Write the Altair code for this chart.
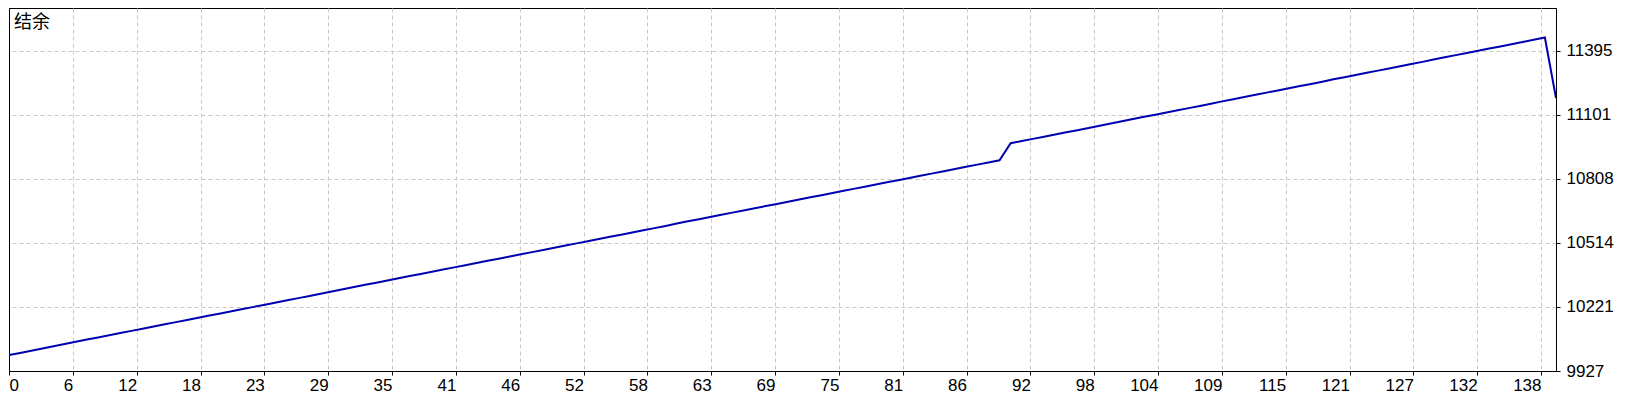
import altair as alt
import pandas as pd

title_text = "结余"

balance = [
    10000, 10010, 10020, 10030, 10040, 10051, 10061, 10071, 10081, 10091,
    10101, 10111, 10121, 10131, 10141, 10151, 10161, 10171, 10181, 10191,
    10201, 10211, 10221, 10231, 10241, 10251, 10261, 10271, 10281, 10291,
    10302, 10312, 10322, 10332, 10342, 10352, 10362, 10372, 10382, 10392,
    10402, 10412, 10422, 10432, 10442, 10452, 10462, 10472, 10482, 10492,
    10502, 10512, 10522, 10532, 10542, 10552, 10562, 10572, 10582, 10592,
    10603, 10613, 10623, 10633, 10643, 10653, 10663, 10673, 10683, 10693,
    10703, 10713, 10723, 10733, 10743, 10753, 10763, 10773, 10783, 10793,
    10803, 10813, 10823, 10833, 10843, 10853, 10863, 10873, 10883, 10893,
    10971, 10981, 10991, 11001, 11011, 11021, 11031, 11041, 11051, 11062,
    11072, 11082, 11092, 11102, 11112, 11122, 11132, 11142, 11152, 11163,
    11173, 11183, 11193, 11203, 11213, 11223, 11233, 11243, 11253, 11264,
    11274, 11284, 11294, 11304, 11314, 11324, 11334, 11344, 11355, 11365,
    11375, 11385, 11395, 11405, 11415, 11425, 11435, 11445, 11456, 11178,
]

x_labels = ["0", "6", "12", "18", "23", "29", "35", "41", "46", "52", "58", "63",
            "69", "75", "81", "86", "92", "98", "104", "109", "115", "121",
            "127", "132", "138"]
y_ticks = [9927, 10221, 10514, 10808, 11101, 11395]

df = pd.DataFrame({"trade": list(range(len(balance))), "balance": balance})

x_max = len(balance) - 1
tick_step = 64 * x_max / 1551
x_tick_values = [k * tick_step for k in range(len(x_labels))]
label_array = "[" + ",".join("'" + s + "'" for s in x_labels) + "]"

FONT = "Liberation Sans"
GRID = "#C8C8C8"

line = alt.Chart(df).mark_line(color="#0000B0", strokeWidth=2, clip=True).encode(
    x=alt.X("trade:Q",
            scale=alt.Scale(domain=[0, x_max], nice=False, zero=False),
            axis=alt.Axis(
                values=x_tick_values,
                labelExpr=label_array + "[round(datum.value / " + repr(tick_step) + ")]",
                title=None,
                grid=True,
                gridColor={"condition": {"test": "datum.value === 0", "value": "#000000"}, "value": GRID},
                gridDash={"condition": {"test": "datum.value === 0", "value": [1, 0]}, "value": [4, 3]},
                gridWidth=1,
                domainColor="#000000",
                tickColor="#000000",
                tickSize=4,
                labelFont=FONT,
                labelFontSize=17,
                labelColor="#000000",
                labelPadding=2,
                labelFlush=False,
                labelOverlap=False,
                labelAlign={"condition": {"test": "datum.value === 0", "value": "left"}, "value": "right"},
            )),
    y=alt.Y("balance:Q",
            scale=alt.Scale(domain=[9927, 11591], nice=False, zero=False),
            axis=alt.Axis(
                orient="right",
                values=y_ticks,
                format="d",
                title=None,
                grid=True,
                gridColor=GRID,
                gridDash=[4, 3],
                gridWidth=1,
                domainColor="#000000",
                tickColor="#000000",
                tickSize=4,
                labelFont=FONT,
                labelFontSize=17,
                labelColor="#000000",
                labelPadding=6,
                labelAlign="left",
                labelBaseline="middle",
                labelFlush=False,
                labelOverlap=False,
            )),
)

chart = line.properties(
    width=1547,
    height=363,
    padding=0,
    background="#FFFFFF",
    title=alt.TitleParams(
        text=title_text,
        anchor="start",
        orient="top",
        frame="group",
        offset=-24,
        dx=5,
        font="Noto Sans CJK SC",
        fontSize=18,
        fontWeight="normal",
        color="#000000",
    ),
).configure_view(
    stroke="#000000",
    strokeWidth=1,
)

chart.save("out.html", embed_options={"renderer": "svg", "actions": False})
